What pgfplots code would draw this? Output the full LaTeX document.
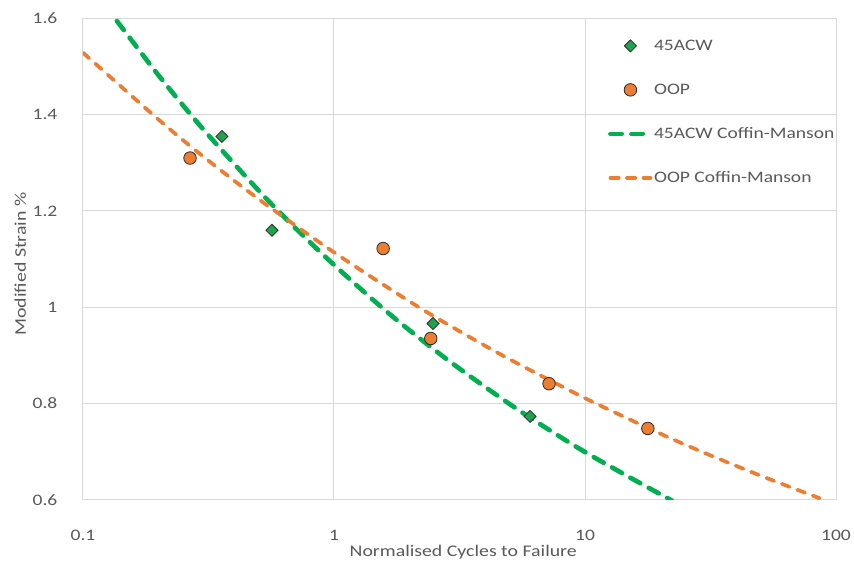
\documentclass[border=0pt]{standalone}
\usepackage{fontspec}
\setmainfont{Carlito}[FakeStretch=1.22]
\usepackage{pgfplots}
\pgfplotsset{compat=1.18}
\definecolor{txt}{HTML}{595959}
\definecolor{gridc}{HTML}{D9D9D9}
\definecolor{cmgreen}{HTML}{00B050}
\definecolor{ptgreen}{HTML}{1FA34F}
\definecolor{cmorange}{HTML}{ED7D31}
\definecolor{edge}{HTML}{2B2B2B}
\begin{document}
\begin{tikzpicture}
\begin{axis}[
  scale only axis,
  width=565pt, height=361pt,
  xmode=log,
  xmin=0.1, xmax=100,
  ymin=0.6, ymax=1.6,
  xtick={0.1,1,10,100},
  xticklabels={0.1,1,10,100},
  ytick={0.6,0.8,1,1.2,1.4,1.6},
  yticklabels={0.6,0.8,1,1.2,1.4,1.6},
  minor x tick num=0,
  major tick length=0pt,
  minor tick length=0pt,
  xmajorgrids=true, ymajorgrids=true,
  xminorgrids=false, yminorgrids=false,
  major grid style={draw=gridc, line width=0.75pt},
  axis line style={draw=gridc, line width=0.75pt},
  tick label style={font=\fontsize{12}{14}\selectfont, text=txt},
  xticklabel style={anchor=center, yshift=-27pt},
  yticklabel style={anchor=east, inner sep=0pt, xshift=-19pt},
  label style={font=\fontsize{12.2}{14}\selectfont, text=txt},
  xlabel={Normalised Cycles to Failure},
  ylabel={Modified Strain \%},
  xlabel style={at={(axis description cs:0.505,-0.110)}, anchor=center},
  ylabel style={at={(axis description cs:-0.0832,0.49)}, anchor=center},
  clip=true,
  legend image code/.code={\draw[mark repeat=2,mark phase=2,#1] plot coordinates {(0pt,0pt) (15pt,0pt) (30pt,0pt)};},
  legend style={at={(axis description cs:0.697,0.961)}, anchor=north west,
    draw=none, fill=none, font=\fontsize{12}{14}\selectfont, text=txt,
    row sep=20.5pt, inner sep=0pt,
    nodes={inner sep=1pt, text height=8.5pt, text depth=2pt}},
  legend cell align=left,
]
\addplot[only marks, mark=square*, mark size=3.2pt,
  mark options={rotate=45, fill=ptgreen, draw=edge, line width=0.6pt}]
  coordinates {(0.358,1.355) (0.566,1.160) (2.48,0.966) (6.04,0.773)};
\addlegendentry{45ACW}
\addplot[only marks, mark=*, mark size=4.7pt,
  mark options={fill=cmorange, draw=edge, line width=0.6pt}]
  coordinates {(0.267,1.310) (1.57,1.122) (2.43,0.935) (7.19,0.841) (17.8,0.748)};
\addlegendentry{OOP}
\addplot[cmgreen, line width=3.5pt, dash pattern=on 8.5pt off 7.25pt, line cap=round, smooth]
  coordinates {(0.12,1.627) (0.134,1.600) (0.2,1.482) (0.3,1.371) (0.5,1.243) (0.7,1.165)
   (1,1.088) (1.5,1.006) (2,0.952) (3,0.881) (5,0.799) (7,0.749) (10,0.699)
   (15,0.647) (22.2,0.598)};
\addlegendentry{45ACW Coffin-Manson}
\addplot[cmorange, line width=2.8pt, dash pattern=on 6.2pt off 6.2pt, line cap=round, smooth]
  coordinates {(0.1,1.529) (0.2,1.390) (0.3,1.314) (0.5,1.225) (1,1.114) (2,1.012)
   (3,0.957) (5,0.892) (10,0.811) (20,0.737) (30,0.697) (50,0.650) (86,0.603)};
\addlegendentry{OOP Coffin-Manson}
\end{axis}
\pgfresetboundingbox
\path (current axis.south west) ++(-62.25pt,-49.5pt) rectangle ([shift={(13.5pt,13.9pt)}]current axis.north east);
\end{tikzpicture}
\end{document}
